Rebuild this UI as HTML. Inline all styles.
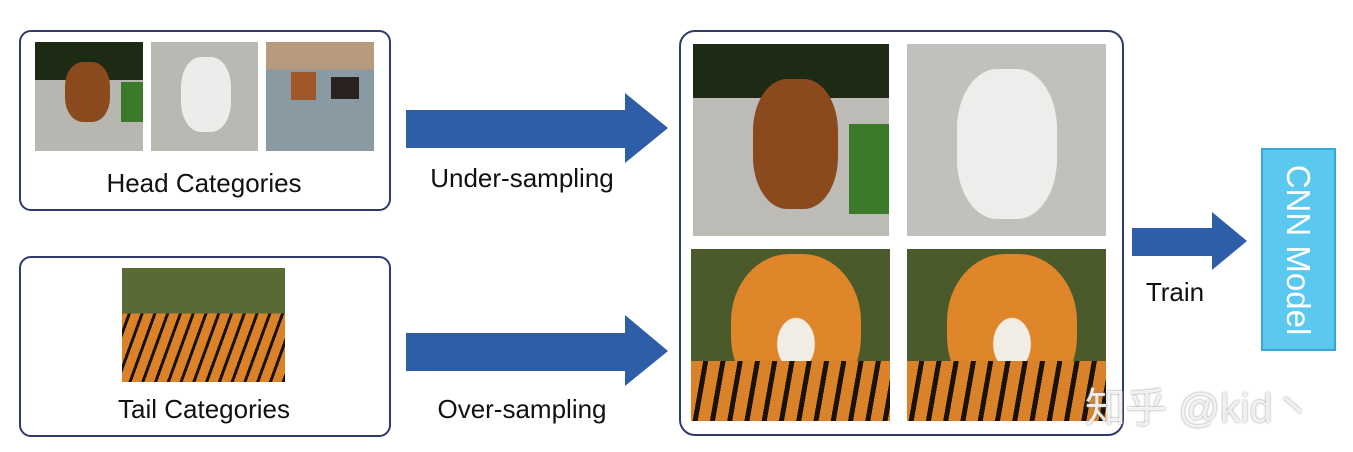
<!DOCTYPE html>
<html><head><meta charset="utf-8"><style>
body{margin:0;width:1353px;height:452px;background:#fff;position:relative;overflow:hidden;font-family:"Liberation Sans","Noto Sans CJK SC",sans-serif;}
.box{position:absolute;border:2.5px solid #2f3b6b;border-radius:12px;box-sizing:border-box;}
.img{position:absolute;overflow:hidden;}
.lbl{position:absolute;font-size:26px;color:#111;white-space:nowrap;transform:translateX(-50%);}
</style></head><body>
<div class="box" style="left:19px;top:30px;width:372px;height:181px"></div>
<div class="img" style="left:35px;top:42px;width:108px;height:109px;background:linear-gradient(#1d2a14 0 35%,#b8b6b0 35%);"><div style="position:absolute;left:30px;top:20px;width:45px;height:60px;background:#8a4a1e;border-radius:40%"></div><div style="position:absolute;right:0;top:40px;width:22px;height:40px;background:#3a7a2a"></div></div>
<div class="img" style="left:151px;top:42px;width:107px;height:109px;background:#b9b9b4;"><div style="position:absolute;left:30px;top:15px;width:50px;height:75px;background:#ececea;border-radius:40%"></div></div>
<div class="img" style="left:266px;top:42px;width:108px;height:109px;background:linear-gradient(#b59a7e 0 25%,#8a9aa2 25%);"><div style="position:absolute;left:25px;top:30px;width:25px;height:28px;background:#a0582a"></div><div style="position:absolute;left:65px;top:35px;width:28px;height:22px;background:#2a2220"></div></div>
<div class="lbl" style="left:204px;top:168px">Head Categories</div>

<div class="box" style="left:19px;top:256px;width:372px;height:181px"></div>
<div class="img" style="left:122px;top:268px;width:163px;height:114px;background:linear-gradient(#5a6a34 0 40%,transparent 40%),repeating-linear-gradient(110deg,#d9822a 0 9px,#1a1208 9px 12px);"></div>
<div class="lbl" style="left:204px;top:394px">Tail Categories</div>

<svg style="position:absolute;left:0;top:0" width="1353" height="452">
<polygon points="406,110 625,110 625,93 668,128 625,163 625,148 406,148" fill="#2e5ea8"/>
<polygon points="406,333 625,333 625,315 668,351 625,386 625,371 406,371" fill="#2e5ea8"/>
<polygon points="1132,228 1212,228 1212,212 1247,241 1212,270 1212,256 1132,256" fill="#2e5ea8"/>
</svg>
<div class="lbl" style="left:522px;top:163px">Under-sampling</div>
<div class="lbl" style="left:522px;top:394px">Over-sampling</div>
<div class="lbl" style="left:1175px;top:277px">Train</div>

<div class="box" style="left:679px;top:30px;width:445px;height:406px;border-radius:16px"></div>
<div class="img" style="left:693px;top:44px;width:196px;height:192px;background:linear-gradient(#1d2a14 0 28%,#bdbbb5 28%);"><div style="position:absolute;left:60px;top:35px;width:85px;height:130px;background:#8a4a1e;border-radius:40%"></div><div style="position:absolute;right:0;top:80px;width:40px;height:90px;background:#3a7a2a"></div></div>
<div class="img" style="left:907px;top:44px;width:199px;height:192px;background:#c0c0bc;"><div style="position:absolute;left:50px;top:25px;width:100px;height:150px;background:#ededeb;border-radius:40%"></div></div>
<div class="img" style="left:691px;top:249px;width:199px;height:172px;background:#4a5a2a;"><div style="position:absolute;left:40px;top:5px;width:130px;height:150px;background:radial-gradient(ellipse at 50% 60%,#f2eee6 0 20%,#e0862a 21%);border-radius:45%"></div><div style="position:absolute;left:0;bottom:0;width:199px;height:60px;background:repeating-linear-gradient(100deg,#d9822a 0 12px,#1a1208 12px 17px)"></div></div>
<div class="img" style="left:907px;top:249px;width:199px;height:172px;background:#4a5a2a;"><div style="position:absolute;left:40px;top:5px;width:130px;height:150px;background:radial-gradient(ellipse at 50% 60%,#f2eee6 0 20%,#e0862a 21%);border-radius:45%"></div><div style="position:absolute;left:0;bottom:0;width:199px;height:60px;background:repeating-linear-gradient(100deg,#d9822a 0 12px,#1a1208 12px 17px)"></div></div>

<div style="position:absolute;left:1261px;top:148px;width:75px;height:203px;background:#5bc8ef;border:2px solid #3aa6d6;box-sizing:border-box;"></div>
<div style="position:absolute;left:1298px;top:250px;transform:translate(-50%,-50%) rotate(90deg);font-size:33px;color:#fff;white-space:nowrap;">CNN Model</div>

<div style="position:absolute;left:1085px;top:374px;font-size:41px;color:rgba(255,255,255,0.85);text-shadow:0 0 2px #888;white-space:nowrap;">知乎 @kid丶</div>
</body></html>
